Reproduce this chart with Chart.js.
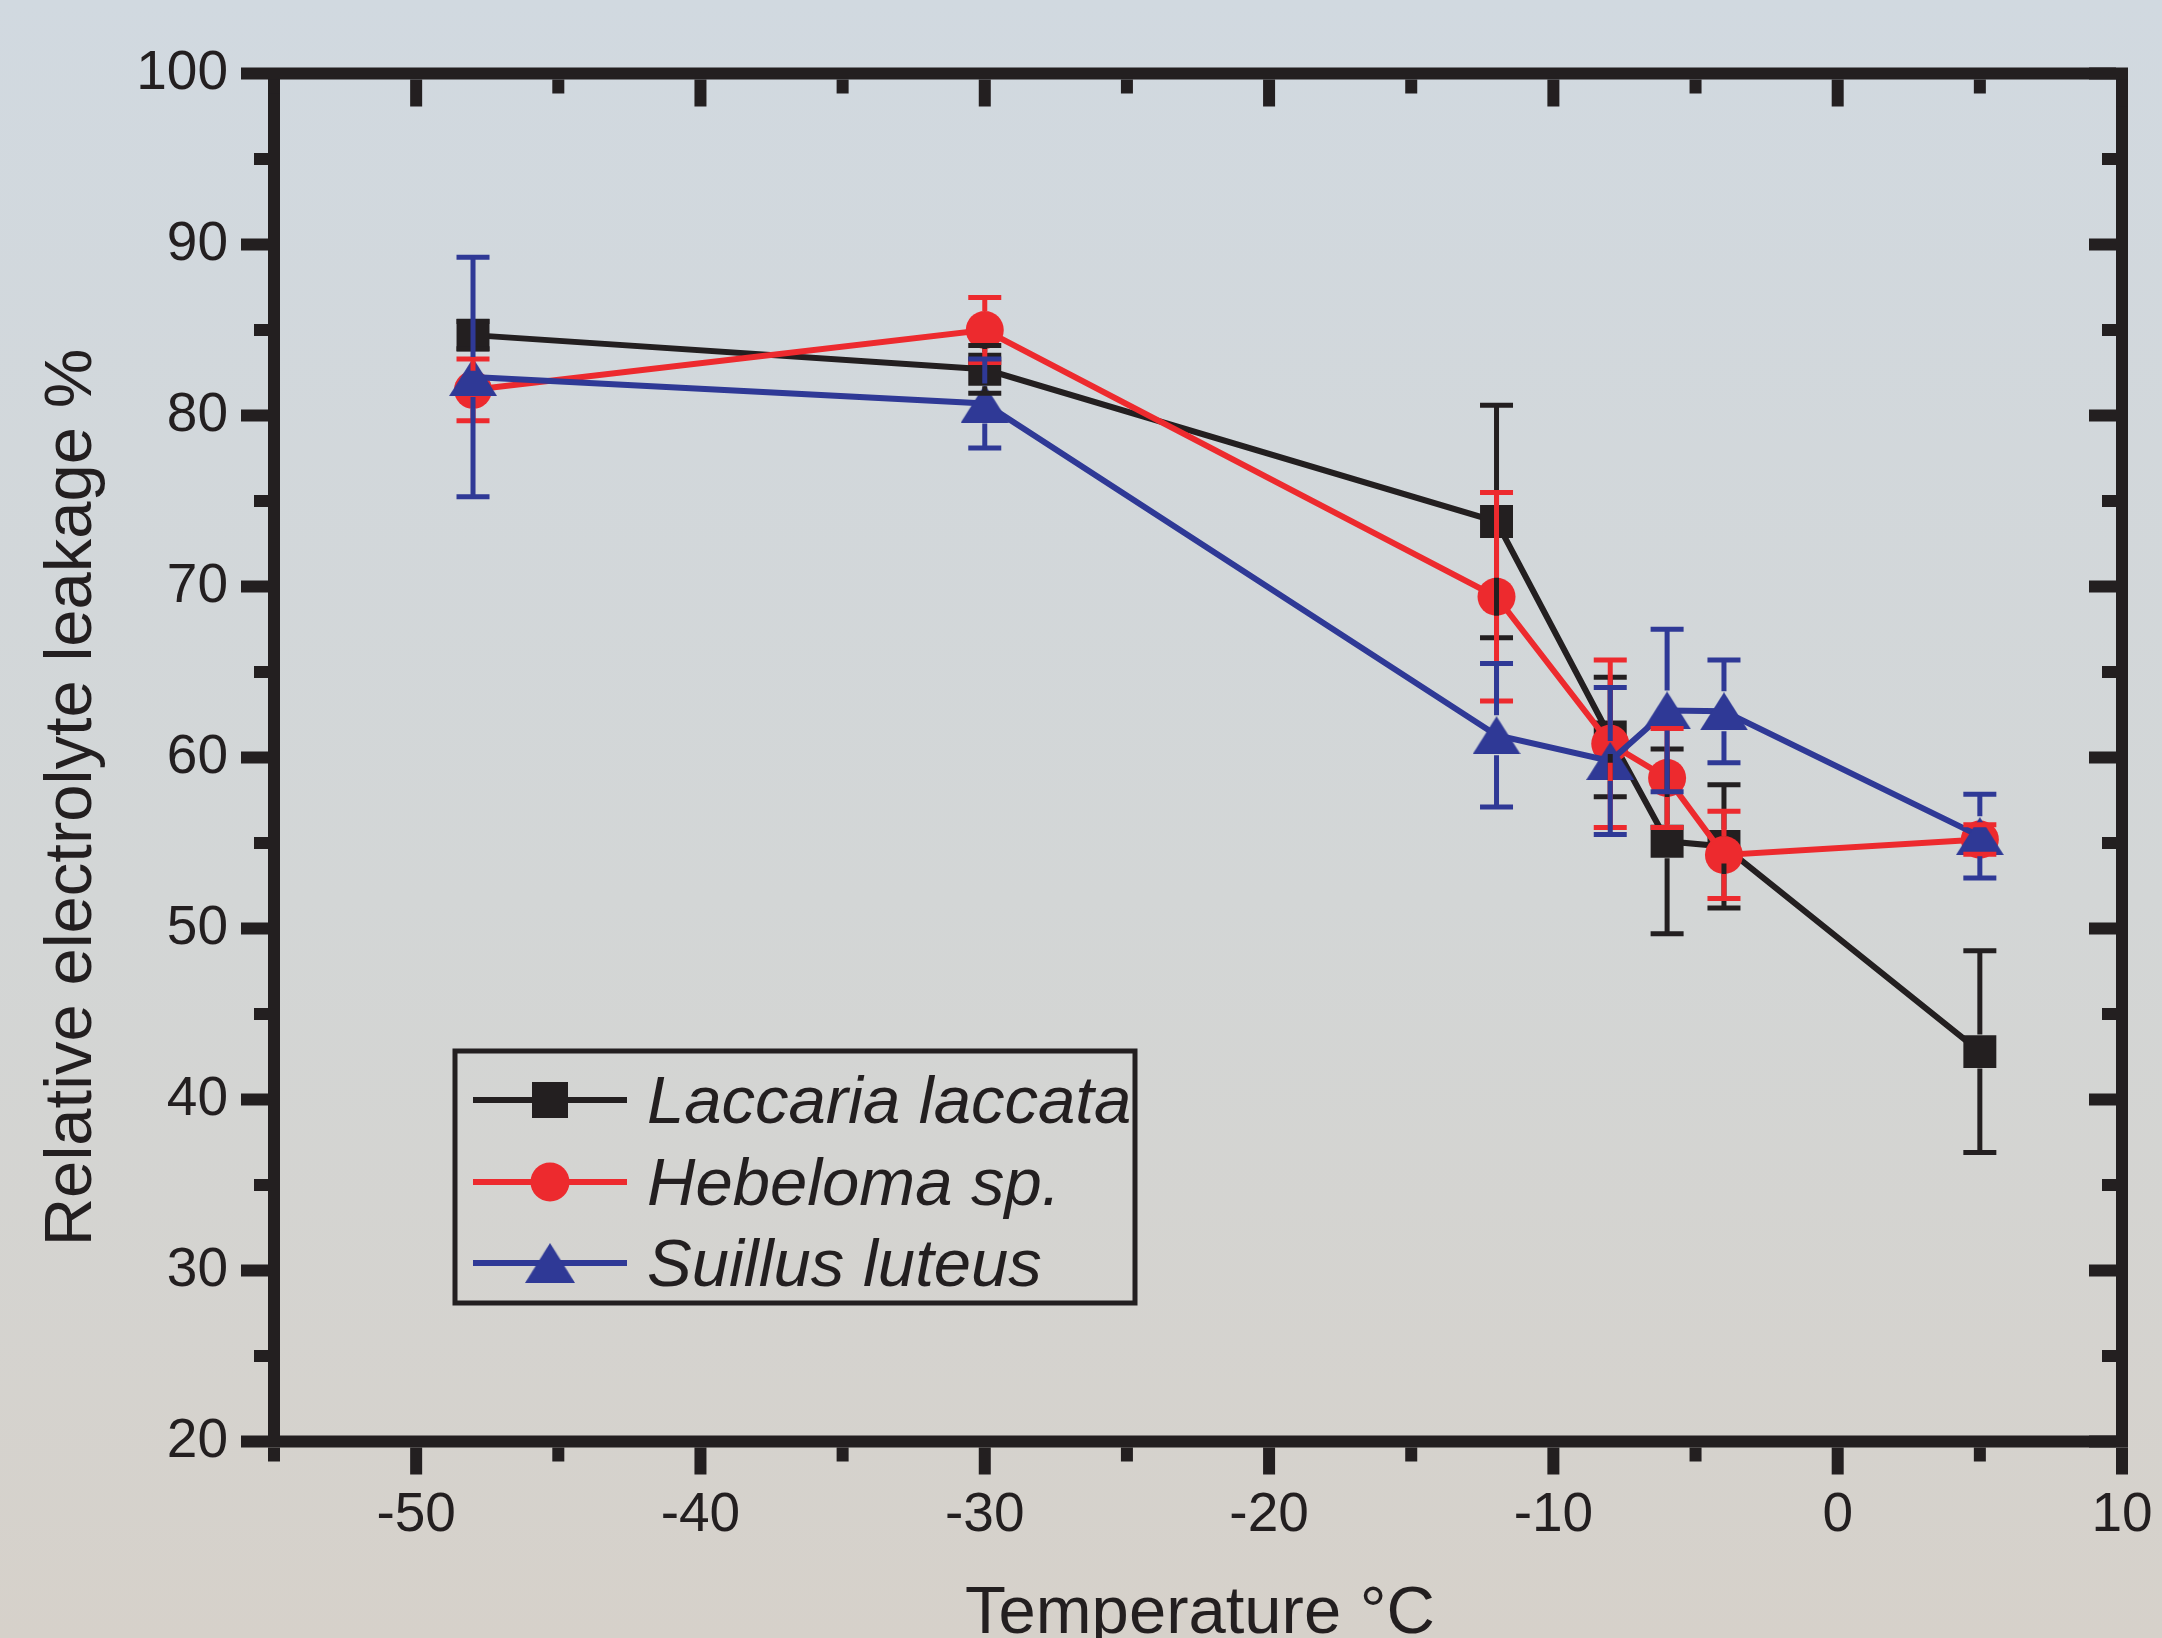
<!DOCTYPE html>
<html><head><meta charset="utf-8">
<script src="https://cdn.jsdelivr.net/npm/chart.js@4.4.1/dist/chart.umd.min.js"></script>
<style>html,body{margin:0;padding:0;background:#d3d6d5;} canvas{display:block;}</style>
</head><body>
<canvas id="c" width="2162" height="1638"></canvas>
<script>
// ---- data ----
const temperatures = [-48, -30, -12, -8, -6, -4, 5];
const laccariaMean = [84.7, 82.7, 73.8, 61.2, 55.1, 54.8, 42.8];
const laccariaErr  = [0.8, 1.4, 6.8, 3.5, 5.4, 3.6, 5.9];
const hebelomaMean = [81.5, 85.0, 69.4, 60.8, 58.8, 54.3, 55.2];
const hebelomaErr  = [1.8, 1.9, 6.1, 4.9, 2.9, 2.55, 0.86];
const suillusMean  = [82.25, 80.7, 61.3, 59.8, 62.75, 62.7, 55.4];
const suillusErr   = [7.0, 2.6, 4.2, 4.3, 4.75, 3.0, 2.45];
const seriesNames  = ['Laccaria laccata', 'Hebeloma sp.', 'Suillus luteus'];
const xTickValues  = [-50, -40, -30, -20, -10, 0, 10];
const yTickValues  = [20, 30, 40, 50, 60, 70, 80, 90, 100];
const xTitle = 'Temperature \u00B0C';
const yTitle = 'Relative electrolyte leakage %';

// ---- styles ----
const INK = '#231F20', RED = '#ED2A2E', BLUE = '#2F3996';
const FONT = "'Liberation Sans', Arial, Helvetica, sans-serif";

function makeTriangle(w, h, color) {
  const c = document.createElement('canvas'); c.width = w; c.height = h;
  const g = c.getContext('2d'); g.fillStyle = color;
  g.beginPath(); g.moveTo(w / 2, 0); g.lineTo(w, h); g.lineTo(0, h); g.closePath(); g.fill();
  return c;
}
const triImg = makeTriangle(48, 38, BLUE);

function pts(means) { return temperatures.map((t, i) => ({ x: t, y: means[i] })); }

const datasets = [
  { label: seriesNames[0], data: pts(laccariaMean), errors: laccariaErr, errGap: 17,
    borderColor: INK, backgroundColor: INK, pointStyle: 'rect', pointRadius: 23.3, order: 3 },
  { label: seriesNames[1], data: pts(hebelomaMean), errors: hebelomaErr, errGap: 19,
    borderColor: RED, backgroundColor: RED, pointStyle: 'circle', pointRadius: 19, order: 2 },
  { label: seriesNames[2], data: pts(suillusMean), errors: suillusErr, errGap: 20,
    borderColor: BLUE, backgroundColor: BLUE, pointStyle: triImg, pointRadius: 24, order: 1 }
].map(d => Object.assign(d, { borderWidth: 6, pointBorderWidth: 0, pointHoverRadius: d.pointRadius,
   tension: 0, fill: false, showLine: true, pointBackgroundColor: d.backgroundColor }));

// ---- plugins ----
const bgPlugin = {
  id: 'bg',
  beforeDraw(chart) {
    const { ctx, width, height } = chart;
    const g = ctx.createLinearGradient(0, 0, 0, height);
    g.addColorStop(0, '#D1D9E0');
    g.addColorStop(0.55, '#D3D6D6');
    g.addColorStop(1, '#D6D1CA');
    ctx.save(); ctx.fillStyle = g; ctx.fillRect(0, 0, width, height); ctx.restore();
  }
};

const CAP_HALF = 16.5;
const errorBarPlugin = {
  id: 'errorBars',
  afterDatasetsDraw(chart) {
    const ctx = chart.ctx, xs = chart.scales.x, ys = chart.scales.y;
    chart.data.datasets.forEach(ds => {
      ctx.save();
      ctx.strokeStyle = ds.borderColor; ctx.lineWidth = 5; ctx.lineCap = 'butt';
      ds.data.forEach((p, i) => {
        const e = ds.errors[i];
        const px = xs.getPixelForValue(p.x), py = ys.getPixelForValue(p.y);
        const top = ys.getPixelForValue(p.y + e), bot = ys.getPixelForValue(p.y - e);
        const gap = ds.errGap;
        ctx.beginPath();
        if (py - gap > top) { ctx.moveTo(px, py - gap); ctx.lineTo(px, top); }
        if (py + gap < bot) { ctx.moveTo(px, py + gap); ctx.lineTo(px, bot); }
        ctx.moveTo(px - CAP_HALF, top); ctx.lineTo(px + CAP_HALF, top);
        ctx.moveTo(px - CAP_HALF, bot); ctx.lineTo(px + CAP_HALF, bot);
        ctx.stroke();
      });
      ctx.restore();
    });
  }
};

const FRAME_W = 12, MAJOR = 27, MINOR = 14, TICK_W = 12, MINOR_STEP_X = 5, MINOR_STEP_Y = 5;
const framePlugin = {
  id: 'frame',
  afterDraw(chart) {
    const ctx = chart.ctx, a = chart.chartArea, xs = chart.scales.x, ys = chart.scales.y;
    const h = FRAME_W / 2, t = TICK_W / 2;
    ctx.save();
    ctx.strokeStyle = INK; ctx.fillStyle = INK; ctx.lineWidth = FRAME_W; ctx.lineJoin = 'miter';
    ctx.strokeRect(a.left, a.top, a.right - a.left, a.bottom - a.top);
    const isMajX = v => xs.ticks.some(tk => Math.abs(tk.value - v) < 1e-6);
    const isMajY = v => ys.ticks.some(tk => Math.abs(tk.value - v) < 1e-6);
    for (let v = xs.min; v <= xs.max + 1e-6; v += MINOR_STEP_X) {
      const px = xs.getPixelForValue(v), L = isMajX(v) ? MAJOR : MINOR;
      ctx.fillRect(px - t, a.bottom + h, TICK_W, L);      // bottom: outward
      ctx.fillRect(px - t, a.top + h, TICK_W, L);         // top: inward
    }
    for (let v = ys.min; v <= ys.max + 1e-6; v += MINOR_STEP_Y) {
      const py = ys.getPixelForValue(v), L = isMajY(v) ? MAJOR : MINOR;
      ctx.fillRect(a.left - h - L, py - t, L, TICK_W);    // left: outward
      ctx.fillRect(a.right - h - L, py - t, L, TICK_W);   // right: inward
    }
    ctx.restore();
  }
};

const titlePlugin = {
  id: 'titles',
  afterDraw(chart) {
    const ctx = chart.ctx, a = chart.chartArea;
    ctx.save();
    ctx.fillStyle = INK; ctx.font = '67px ' + FONT; ctx.textAlign = 'center'; ctx.textBaseline = 'alphabetic';
    ctx.fillText(xTitle, (a.left + a.right) / 2 + 2, 1633);
    ctx.translate(91, (a.top + a.bottom) / 2 + 40);
    ctx.rotate(-Math.PI / 2);
    ctx.fillText(yTitle, 0, 0);
    ctx.restore();
  }
};

const legendPlugin = {
  id: 'boxLegend',
  afterDraw(chart) {
    const ctx = chart.ctx;
    const box = { x: 455, y: 1051, w: 680, h: 252 };
    const rowBase = [1123, 1205, 1286];
    ctx.save();
    ctx.strokeStyle = INK; ctx.lineWidth = 5;
    ctx.strokeRect(box.x, box.y, box.w, box.h);
    chart.data.datasets.forEach((ds, i) => {
      const cy = rowBase[i] - 23;
      ctx.strokeStyle = ds.borderColor; ctx.lineWidth = 6;
      ctx.beginPath(); ctx.moveTo(473, cy); ctx.lineTo(627, cy); ctx.stroke();
      ctx.fillStyle = ds.backgroundColor;
      if (ds.pointStyle === 'rect') { ctx.fillRect(550 - 18, cy - 18, 36, 36); }
      else if (ds.pointStyle === 'circle') { ctx.beginPath(); ctx.arc(550, cy, 19.5, 0, Math.PI * 2); ctx.fill(); }
      else { ctx.drawImage(ds.pointStyle, 550 - 25, cy - 20, 50, 40); }
      ctx.fillStyle = INK; ctx.font = 'italic 67px ' + FONT; ctx.textAlign = 'left'; ctx.textBaseline = 'alphabetic';
      ctx.fillText(ds.label, 647, rowBase[i]);
    });
    ctx.restore();
  }
};

new Chart(document.getElementById('c'), {
  type: 'line',
  data: { datasets },
  options: {
    responsive: false, animation: false, devicePixelRatio: 1,
    layout: { padding: { left: 0, right: 40, top: 73.5, bottom: 0 } },
    plugins: { legend: { display: false }, tooltip: { enabled: false } },
    scales: {
      x: {
        type: 'linear', min: -55, max: 10,
        afterBuildTicks: s => { s.ticks = xTickValues.map(v => ({ value: v })); },
        afterFit: s => { s.height = 1638 - 1441.5; s.paddingLeft = 0; s.paddingRight = 0; },
        grid: { display: false }, border: { display: false },
        ticks: { color: INK, font: { family: FONT, size: 55 }, padding: 33, maxRotation: 0, autoSkip: false }
      },
      y: {
        type: 'linear', min: 20, max: 100,
        afterBuildTicks: s => { s.ticks = yTickValues.map(v => ({ value: v })); },
        afterFit: s => { s.width = 274; s.paddingTop = 0; s.paddingBottom = 0; },
        grid: { display: false }, border: { display: false },
        ticks: { color: INK, font: { family: FONT, size: 55 }, padding: 38, autoSkip: false }
      }
    }
  },
  plugins: [bgPlugin, errorBarPlugin, framePlugin, titlePlugin, legendPlugin]
});
</script>
</body></html>
